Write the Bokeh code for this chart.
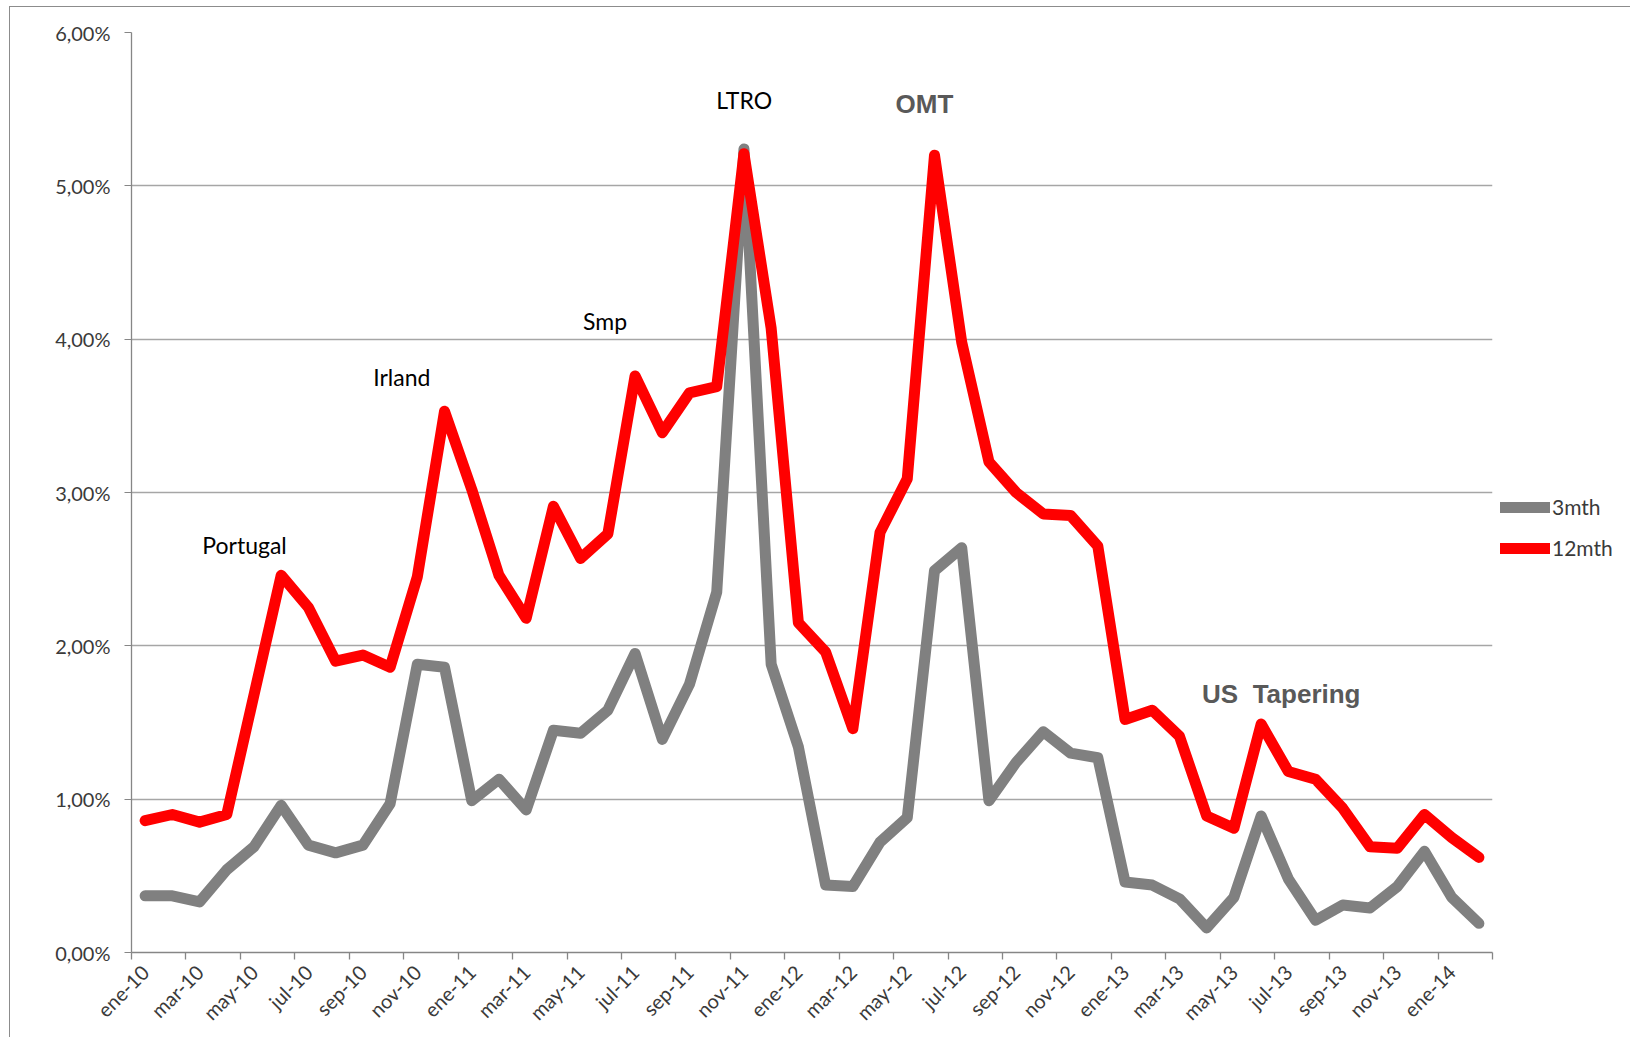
import math
from bokeh.plotting import figure
from bokeh.models import FixedTicker, Legend, LegendItem, Label
from bokeh.embed import file_html
from bokeh.resources import INLINE

# ---- data (monthly, ene-10 .. feb-14) ----
x_tick_labels = ["ene-10", "mar-10", "may-10", "jul-10", "sep-10", "nov-10",
                 "ene-11", "mar-11", "may-11", "jul-11", "sep-11", "nov-11",
                 "ene-12", "mar-12", "may-12", "jul-12", "sep-12", "nov-12",
                 "ene-13", "mar-13", "may-13", "jul-13", "sep-13", "nov-13",
                 "ene-14"]
y_tick_labels = ["0,00%", "1,00%", "2,00%", "3,00%", "4,00%", "5,00%", "6,00%"]

series_3mth = [0.37, 0.37, 0.33, 0.54, 0.69, 0.96, 0.70, 0.65, 0.70, 0.97,
               1.88, 1.86, 0.99, 1.13, 0.93, 1.45, 1.43, 1.58, 1.95, 1.39,
               1.75, 2.35, 5.24, 1.88, 1.34, 0.44, 0.43, 0.72, 0.88, 2.49,
               2.64, 0.99, 1.24, 1.44, 1.30, 1.27, 0.46, 0.44, 0.35, 0.16,
               0.36, 0.89, 0.48, 0.21, 0.31, 0.29, 0.43, 0.66, 0.36, 0.19]
series_12mth = [0.86, 0.90, 0.85, 0.90, 1.68, 2.46, 2.25, 1.90, 1.94, 1.86,
                2.45, 3.53, 3.02, 2.46, 2.18, 2.91, 2.57, 2.73, 3.76, 3.39,
                3.65, 3.69, 5.21, 4.07, 2.15, 1.96, 1.46, 2.74, 3.09, 5.20,
                3.98, 3.20, 3.00, 2.86, 2.85, 2.65, 1.52, 1.58, 1.41, 0.89,
                0.81, 1.49, 1.18, 1.13, 0.94, 0.69, 0.68, 0.90, 0.75, 0.62]

n = len(series_3mth)
xs = [i + 0.5 for i in range(n)]

FONT = "Lato"
GRID = "#a6a6a6"
AXIS = "#868686"

p = figure(frame_width=1361, frame_height=920,
           min_border_left=121, min_border_right=125,
           min_border_top=25, min_border_bottom=85,
           x_range=(0, n), y_range=(0, 6),
           output_backend="svg", toolbar_location=None,
           background_fill_color="white", border_fill_color="white",
           styles={"margin-left": "9px", "margin-top": "6px",
                   "border-left": "1px solid #8c8c8c", "border-top": "1px solid #8c8c8c"})
p.outline_line_color = None
p.xgrid.visible = False
p.ygrid.grid_line_color = GRID
p.ygrid.grid_line_width = 1.3

# y axis
p.yaxis.ticker = FixedTicker(ticks=list(range(len(y_tick_labels))))
p.yaxis.major_label_overrides = {i: t for i, t in enumerate(y_tick_labels)}
p.yaxis.axis_line_color = AXIS
p.yaxis.axis_line_width = 1.3
p.yaxis.major_tick_line_color = AXIS
p.yaxis.major_tick_out = 7
p.yaxis.major_tick_in = 0
p.yaxis.minor_tick_line_color = None
p.yaxis.major_label_text_font = FONT
p.yaxis.major_label_text_font_size = "20px"
p.yaxis.major_label_text_color = "#3a3a3a"
p.yaxis.major_label_standoff = 14

# x axis: labels centred on categories, tick marks at category boundaries
label_pos = [2 * k + 0.5 for k in range(len(x_tick_labels))]
p.xaxis.ticker = FixedTicker(ticks=label_pos, minor_ticks=[2 * k for k in range(n // 2 + 1)])
p.xaxis.major_label_overrides = {pos: t for pos, t in zip(label_pos, x_tick_labels)}
p.xaxis.major_label_orientation = math.pi / 4
p.xaxis.axis_line_color = AXIS
p.xaxis.axis_line_width = 1.3
p.xaxis.major_tick_out = 0
p.xaxis.major_tick_in = 0
p.xaxis.minor_tick_out = 7
p.xaxis.minor_tick_in = 0
p.xaxis.minor_tick_line_color = AXIS
p.xaxis.minor_tick_line_width = 1.3
p.xaxis.major_label_text_font = FONT
p.xaxis.major_label_text_font_size = "20px"
p.xaxis.major_label_text_color = "#3a3a3a"
p.xaxis.major_label_standoff = 9

r_gray = p.line(xs, series_3mth, line_color="#808080", line_width=11,
                line_join="round", line_cap="round")
r_red = p.line(xs, series_12mth, line_color="#ff0000", line_width=11,
               line_join="round", line_cap="round")

legend = Legend(items=[LegendItem(label="3mth", renderers=[r_gray]),
                       LegendItem(label="12mth", renderers=[r_red])],
                location=(8, 392), glyph_width=50, glyph_height=20,
                label_standoff=2, spacing=16, padding=0, margin=0,
                border_line_color=None, background_fill_alpha=0,
                label_text_font=FONT, label_text_font_size="21px",
                label_text_color="#3a3a3a", label_height=20)
p.add_layout(legend, "right")

annotations = [
    ("Portugal", 2.60, 2.655, False),
    ("Irland", 8.88, 3.752, False),
    ("Smp", 16.59, 4.118, False),
    ("LTRO", 21.48, 5.557, False),
    ("OMT", 28.07, 5.535, True),
    ("US\u00a0\u00a0Tapering", 39.33, 1.687, True),
]
for text, ax, ay, bold in annotations:
    if bold:
        lab = Label(x=ax, y=ay, text=text, text_baseline="middle", text_align="left",
                    text_font="Liberation Sans", text_font_style="bold",
                    text_font_size="26px", text_color="#595959")
    else:
        lab = Label(x=ax, y=ay, text=text, text_baseline="middle", text_align="left",
                    text_font=FONT, text_font_size="23px", text_color="#000000")
    p.add_layout(lab)

open("out.html", "w").write(file_html(p, INLINE))
